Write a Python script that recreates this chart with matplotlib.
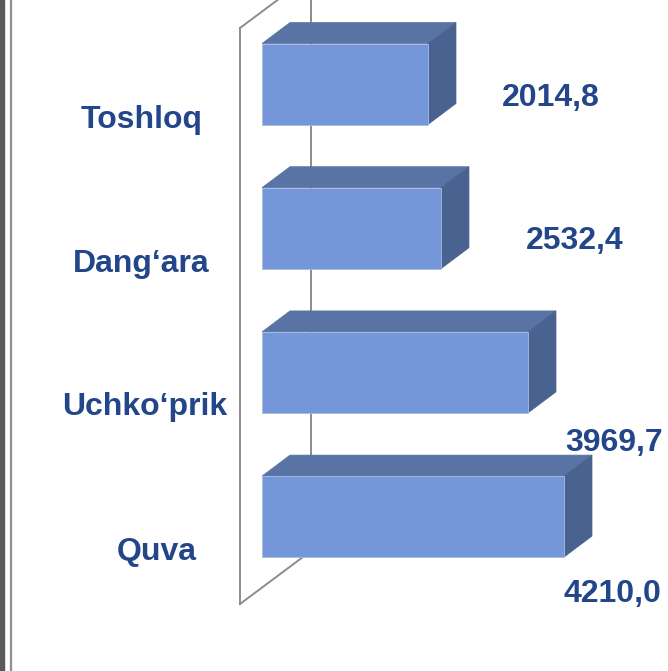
import matplotlib
matplotlib.use("Agg")
import matplotlib.pyplot as plt
from matplotlib.patches import Polygon, Rectangle
from matplotlib.lines import Line2D

# ---- data ----
categories = ["Toshloq", "Dang\u2018ara", "Uchko\u2018prik", "Quva"]
label_values = ["2014,8", "2532,4", "3969,7", "4210,0"]
# bar lengths as drawn in the picture (the chart's plotted values)
bar_values = [2314, 2495, 3708, 4210]

# ---- styling / geometry ----
W, H = 668, 671
X0, KX = 262.0, 302.0 / 4210.0     # pixel of value 0, pixels per unit
Y0, SY = 84.0, 144.2               # pixel of first category centre, pixels per category
front_c = "#7596D8"
top_c = "#5873A4"
side_c = "#4A6290"
text_c = "#23468A"
wall_c = "#8C8C8C"
font = ["Liberation Sans", "DejaVu Sans"]

def dx(px):   # pixel x -> data x
    return (px - X0) / KX

def dy(py):   # pixel y -> data y (category index)
    return (py - Y0) / SY

fig = plt.figure(figsize=(W / 100, H / 100), dpi=100)
ax = fig.add_axes([0, 0, 1, 1])
ax.set_xlim(dx(0), dx(W))
ax.set_ylim(dy(H), dy(0))
ax.axis("off")

# left frame decoration
fig.add_artist(Rectangle((0, 0), 3.5 / W, 1, transform=fig.transFigure,
                         color="#5A5A5A", zorder=0))
fig.add_artist(Line2D([11 / W, 11 / W], [0, 1], transform=fig.transFigure,
                      color="#8F8F8F", lw=1.6, zorder=0))

# 3-D wall
wall_depth_x = dx(311) - dx(240)
wall_depth_y = dy(551) - dy(604)
fx = dx(240)
ax.plot([fx, fx], [dy(28), dy(604)], color=wall_c, lw=1.4, zorder=1)
ax.plot([fx, fx + wall_depth_x * 28 / 53 * 1.6], [dy(28), dy(28) + wall_depth_y * 1.6 * 28 / 53],
        color=wall_c, lw=1.4, zorder=1)
ax.plot([fx, fx + wall_depth_x], [dy(604), dy(604) + wall_depth_y], color=wall_c, lw=1.4, zorder=1)
ax.plot([fx + wall_depth_x] * 2, [dy(-5), dy(604) + wall_depth_y], color=wall_c, lw=1.4, zorder=1)

# bars
half = 40.5 / SY
ddx = 28 / KX
ddy = -21 / SY
idx = list(range(len(categories)))
ax.barh(idx, bar_values, height=2 * half, left=0, color=front_c,
        edgecolor="#A8BCE4", linewidth=0.6, zorder=3)
for i, v in zip(idx, bar_values):
    top = Polygon([(0, i - half), (v, i - half), (v + ddx, i - half + ddy), (ddx, i - half + ddy)],
                  closed=True, facecolor=top_c, edgecolor=top_c, lw=0.5, zorder=2)
    side = Polygon([(v, i - half), (v, i + half), (v + ddx, i + half + ddy), (v + ddx, i - half + ddy)],
                   closed=True, facecolor=side_c, edgecolor=side_c, lw=0.5, zorder=2)
    ax.add_patch(top)
    ax.add_patch(side)

# category labels (centre x, baseline y in pixels)
cat_pos = [(141.5, 128), (141.5, 272), (145, 415), (156.5, 560)]
for name, (px, pyy) in zip(categories, cat_pos):
    ax.text(dx(px), dy(pyy), name, ha="center", va="baseline", fontsize=23,
            fontweight="bold", color=text_c, family=font, zorder=5)

# value labels (centre x, baseline y in pixels)
val_pos = [(550.5, 106), (575, 249), (614, 451), (612, 602)]
for lab, (px, pyy) in zip(label_values, val_pos):
    ax.text(dx(px), dy(pyy), lab, ha="center", va="baseline", fontsize=23,
            fontweight="bold", color=text_c, family=font, zorder=5)

fig.savefig("out.png", dpi=100)
